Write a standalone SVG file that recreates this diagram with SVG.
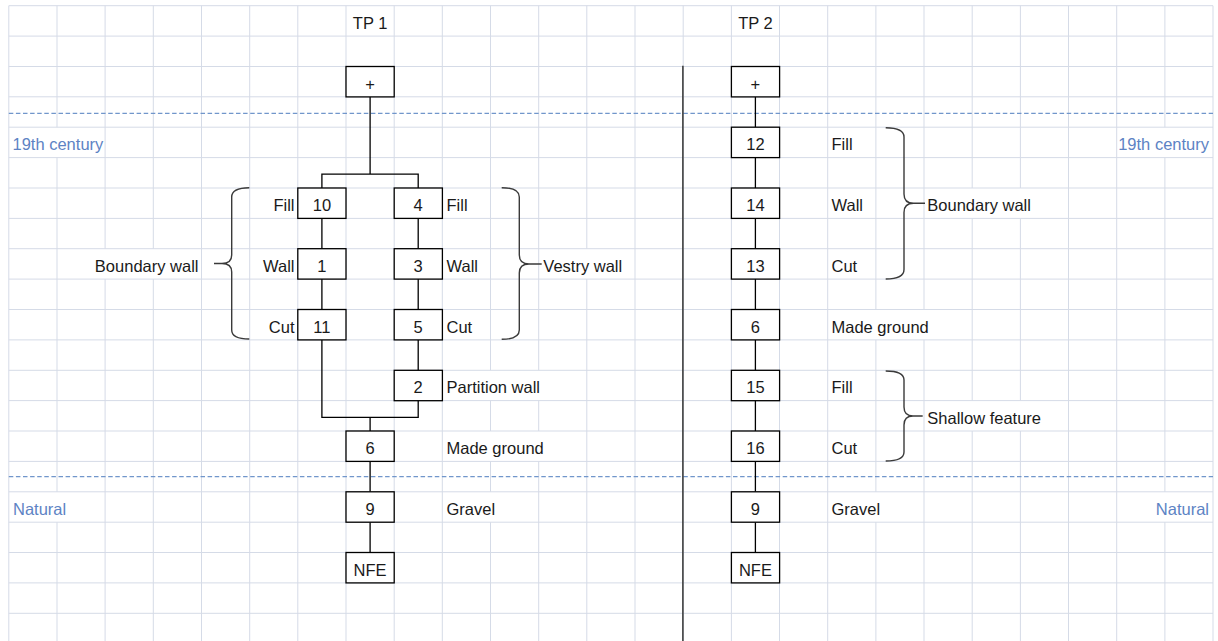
<svg xmlns="http://www.w3.org/2000/svg" width="1218" height="641" viewBox="0 0 1218 641">
<style>
.grid{stroke:#d5dbe7;stroke-width:1;fill:none}
.dash{stroke:#7196cb;stroke-width:1.3;stroke-dasharray:4.5 2.6;fill:none}
.box{fill:#fff;stroke:#000;stroke-width:1.3}
.con{stroke:#000;stroke-width:1.3;fill:none}
.brace{stroke:#3a3a3a;stroke-width:1.4;fill:none}
text{font-family:"Liberation Sans",Arial,sans-serif;font-size:16.5px;fill:#1a1a1a}
.c{text-anchor:middle}
.r{text-anchor:end}
.blue{fill:#5d83c4}
</style>
<rect x="0" y="0" width="1218" height="641" fill="#fff"/>
<g id="grid">
<path class="grid" d="M8.8 5.7H1213M8.8 36.1H1213M8.8 66.5H1213M8.8 96.8H1213M8.8 127.2H1213M8.8 157.6H1213M8.8 188H1213M8.8 218.4H1213M8.8 248.7H1213M8.8 279.1H1213M8.8 309.5H1213M8.8 339.9H1213M8.8 370.3H1213M8.8 400.6H1213M8.8 431H1213M8.8 461.4H1213M8.8 491.8H1213M8.8 522.2H1213M8.8 552.5H1213M8.8 582.9H1213M8.8 613.3H1213"/>
<path class="grid" d="M8.8 5.7V641
M57 5.7V127.2M57 157.6V491.8M57 522.2V641
M105.1 5.7V248.7M105.1 279.1V641
M153.3 5.7V248.7M153.3 279.1V641
M201.5 5.7V641M249.7 5.7V641M297.8 5.7V641M346 5.7V641M394.2 5.7V641M442.3 5.7V641
M490.5 5.7V370.3M490.5 400.6V431M490.5 461.4V491.8M490.5 522.2V641
M538.7 5.7V370.3M538.7 400.6V431M538.7 461.4V641
M586.8 5.7V248.7M586.8 279.1V641
M635 5.7V641M683.2 5.7V641M731.4 5.7V641M779.5 5.7V641M827.7 5.7V641
M875.9 5.7V309.5M875.9 339.9V491.8M875.9 522.2V641
M924 5.7V309.5M924 339.9V641
M972.2 5.7V188M972.2 218.4V400.6M972.2 431V641
M1020.4 5.7V188M1020.4 218.4V400.6M1020.4 431V641
M1068.5 5.7V641M1116.7 5.7V641
M1164.9 5.7V127.2M1164.9 157.6V491.8M1164.9 522.2V641
M1213 5.7V641"/>
</g>
<g id="period-lines">
<line class="dash" x1="8.8" y1="113.3" x2="1213" y2="113.3"/>
<line class="dash" x1="8.8" y1="476.7" x2="1213" y2="476.7"/>
</g>
<g id="divider">
<line x1="682.9" y1="65.7" x2="682.9" y2="641" stroke="#333" stroke-width="1.5"/>
</g>
<g id="headers">
<text class="c" x="370.1" y="28.7">TP 1</text>
<text class="c" x="755.4" y="28.7">TP 2</text>
<text class="blue" x="12.5" y="150.2">19th century</text>
<text class="blue r" x="1209" y="150.2">19th century</text>
<text class="blue" x="13" y="514.8">Natural</text>
<text class="blue r" x="1209" y="514.8">Natural</text>
</g>
<g id="connectors">
<path class="con" d="M370.1 96.8V174.2M321.9 188V174.2H418.2V188
M321.9 218.4V248.7M321.9 279.1V309.5
M418.2 218.4V248.7M418.2 279.1V309.5M418.2 339.9V370.3
M321.9 339.9V417.3H418.2V400.6M370.1 417.3V431
M370.1 461.4V491.8M370.1 522.2V552.5
M755.4 96.8V127.2M755.4 157.6V188M755.4 218.4V248.7M755.4 279.1V309.5M755.4 339.9V370.3M755.4 400.6V431M755.4 461.4V491.8M755.4 522.2V552.5"/>
</g>
<g id="braces">
<path class="brace" d="M249.3 187.7Q231.7 187.7 231.7 197V255Q231.7 263.5 222 263.5H214M222 263.5Q231.7 263.5 231.7 272V330Q231.7 339 249.3 339"/>
<path class="brace" d="M501.7 187.7Q519.3 187.7 519.3 197V255Q519.3 264 529 264H541.7M529 264Q519.3 264 519.3 273V330Q519.3 339.3 501.7 339.3"/>
<path class="brace" d="M885.7 127.7Q904 127.7 904 137V194Q904 203.3 913.5 203.3H925M913.5 203.3Q904 203.3 904 212.5V269.5Q904 279 885.7 279"/>
<path class="brace" d="M885.7 371Q904 371 904 380V407Q904 416 913 416H922.7M913 416Q904 416 904 425V452Q904 461 885.7 461"/>
</g>
<g id="tp1-plus"><rect class="box" x="346" y="66.5" width="48.2" height="30.4"/><text class="c" x="370.1" y="89.5">+</text></g>
<g id="tp1-10"><rect class="box" x="297.8" y="188" width="48.2" height="30.4"/><text class="c" x="321.9" y="211">10</text><text class="r" x="294.5" y="211">Fill</text></g>
<g id="tp1-4"><rect class="box" x="394.2" y="188" width="48.2" height="30.4"/><text class="c" x="418.2" y="211">4</text><text x="446.5" y="211">Fill</text></g>
<g id="tp1-1"><rect class="box" x="297.8" y="248.7" width="48.2" height="30.4"/><text class="c" x="321.9" y="271.7">1</text><text class="r" x="294.5" y="271.7">Wall</text></g>
<g id="tp1-3"><rect class="box" x="394.2" y="248.7" width="48.2" height="30.4"/><text class="c" x="418.2" y="271.7">3</text><text x="446.5" y="271.7">Wall</text></g>
<g id="tp1-11"><rect class="box" x="297.8" y="309.5" width="48.2" height="30.4"/><text class="c" x="321.9" y="332.5">11</text><text class="r" x="294.5" y="332.5">Cut</text></g>
<g id="tp1-5"><rect class="box" x="394.2" y="309.5" width="48.2" height="30.4"/><text class="c" x="418.2" y="332.5">5</text><text x="446.5" y="332.5">Cut</text></g>
<g id="tp1-2"><rect class="box" x="394.2" y="370.3" width="48.2" height="30.4"/><text class="c" x="418.2" y="393.3">2</text><text x="446.5" y="393.3">Partition wall</text></g>
<g id="tp1-6"><rect class="box" x="346" y="431" width="48.2" height="30.4"/><text class="c" x="370.1" y="454">6</text><text x="446.5" y="454">Made ground</text></g>
<g id="tp1-9"><rect class="box" x="346" y="491.8" width="48.2" height="30.4"/><text class="c" x="370.1" y="514.8">9</text><text x="446.5" y="514.8">Gravel</text></g>
<g id="tp1-nfe"><rect class="box" x="346" y="552.5" width="48.2" height="30.4"/><text class="c" x="370.1" y="575.5">NFE</text></g>
<g id="tp1-boundary-label"><text class="r" x="198.5" y="271.7">Boundary wall</text></g>
<g id="tp1-vestry-label"><text x="543.3" y="271.7">Vestry wall</text></g>
<g id="tp2-plus"><rect class="box" x="731.4" y="66.5" width="48.2" height="30.4"/><text class="c" x="755.4" y="89.5">+</text></g>
<g id="tp2-12"><rect class="box" x="731.4" y="127.2" width="48.2" height="30.4"/><text class="c" x="755.4" y="150.2">12</text><text x="831.5" y="150.2">Fill</text></g>
<g id="tp2-14"><rect class="box" x="731.4" y="188" width="48.2" height="30.4"/><text class="c" x="755.4" y="211">14</text><text x="831.5" y="211">Wall</text></g>
<g id="tp2-13"><rect class="box" x="731.4" y="248.7" width="48.2" height="30.4"/><text class="c" x="755.4" y="271.7">13</text><text x="831.5" y="271.7">Cut</text></g>
<g id="tp2-6"><rect class="box" x="731.4" y="309.5" width="48.2" height="30.4"/><text class="c" x="755.4" y="332.5">6</text><text x="831.5" y="332.5">Made ground</text></g>
<g id="tp2-15"><rect class="box" x="731.4" y="370.3" width="48.2" height="30.4"/><text class="c" x="755.4" y="393.3">15</text><text x="831.5" y="393.3">Fill</text></g>
<g id="tp2-16"><rect class="box" x="731.4" y="431" width="48.2" height="30.4"/><text class="c" x="755.4" y="454">16</text><text x="831.5" y="454">Cut</text></g>
<g id="tp2-9"><rect class="box" x="731.4" y="491.8" width="48.2" height="30.4"/><text class="c" x="755.4" y="514.8">9</text><text x="831.5" y="514.8">Gravel</text></g>
<g id="tp2-nfe"><rect class="box" x="731.4" y="552.5" width="48.2" height="30.4"/><text class="c" x="755.4" y="575.5">NFE</text></g>
<g id="tp2-boundary-label"><text x="927.3" y="211">Boundary wall</text></g>
<g id="tp2-shallow-label"><text x="927.3" y="423.6">Shallow feature</text></g>
</svg>
